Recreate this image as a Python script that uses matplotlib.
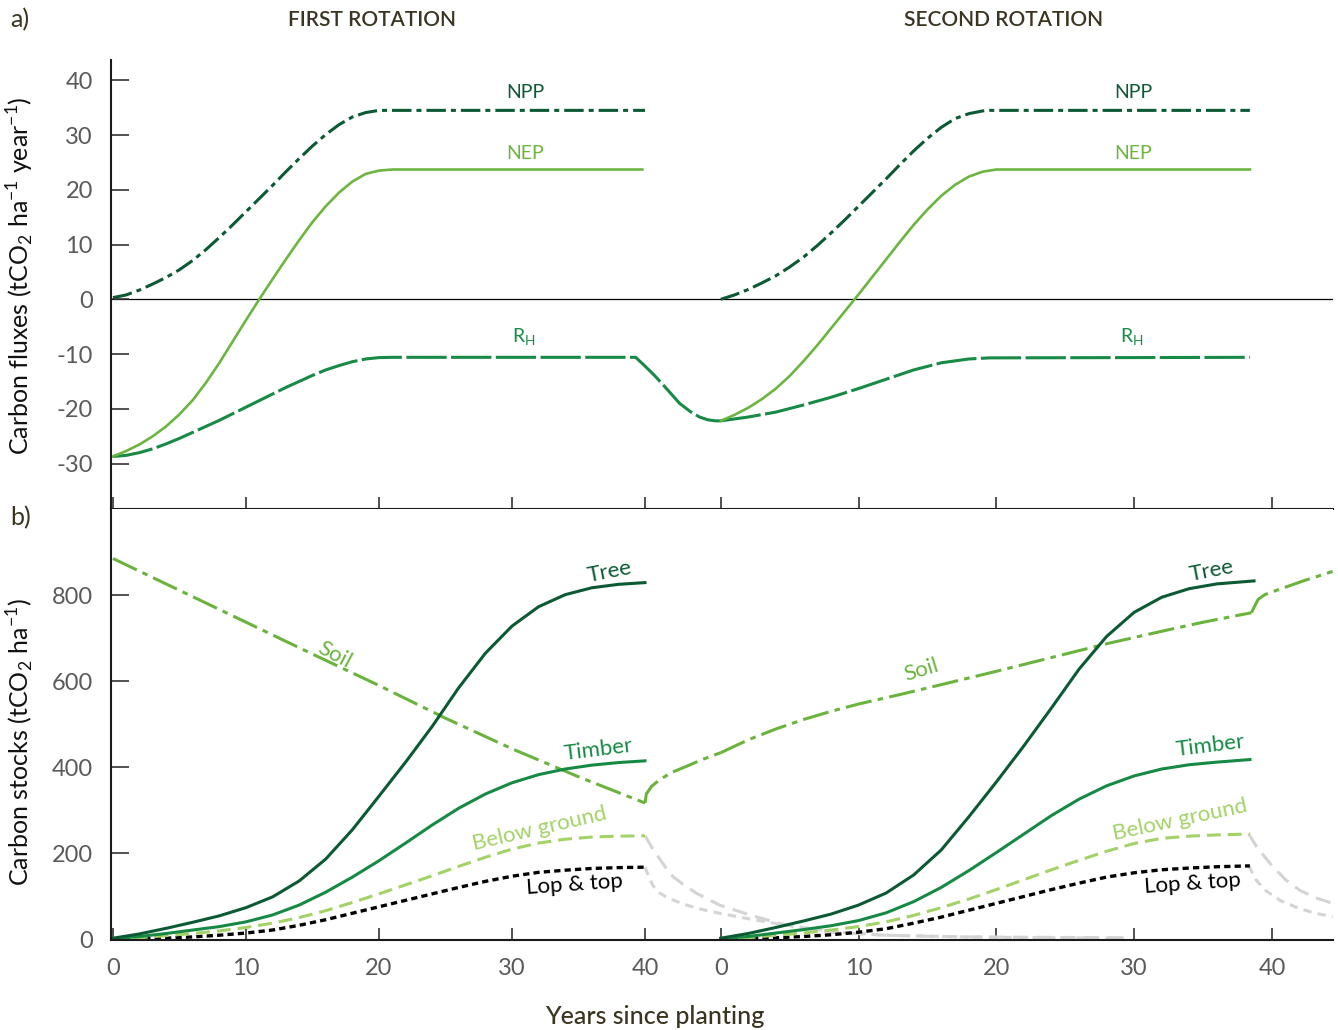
import numpy as np
import matplotlib
matplotlib.use("Agg")
import matplotlib.pyplot as plt

plt.rcParams["font.family"] = ["Lato", "DejaVu Sans"]
plt.rcParams["axes.unicode_minus"] = False
plt.rcParams["lines.scale_dashes"] = False

# x axis is in years since first planting; the second rotation is
# replanted at R2_START and its own year scale is a little wider
R2_START = 45.7
R2_SCALE = 1.036


def rot2(years):
    return R2_START + R2_SCALE * np.asarray(years, dtype=float)


# ---------------- a) carbon fluxes (tCO2 / ha / year) ----------------
# first rotation
flux_yr1 = [0, 1, 2, 3, 4, 5, 6, 7, 8, 9, 10, 11, 12, 13, 14, 15, 16, 17, 18, 19, 20, 40]
npp1 = [0.3, 0.8, 1.7, 2.8, 4.0, 5.4, 7.1, 9.1, 11.3, 13.6, 16.0, 18.4, 20.8, 23.3, 25.7,
        28.0, 30.1, 31.9, 33.3, 34.1, 34.5, 34.5]
nep_yr1 = [0, 1, 2, 3, 4, 5, 6, 7, 8, 9, 10, 11, 12, 13, 14, 15, 16, 17, 18, 19, 20, 21, 39.8]
nep1 = [-28.7, -27.7, -26.5, -25.0, -23.2, -21.0, -18.4, -15.2, -11.6, -7.7, -3.8, 0.0,
        3.7, 7.3, 10.8, 14.1, 17.0, 19.5, 21.5, 22.9, 23.5, 23.7, 23.7]
rh_yr1 = [0, 1, 2, 3, 4, 5, 6, 7, 8, 9, 10, 11, 12, 13, 14, 15, 16, 17, 18, 19, 20, 21,
          39.3, 40.0, 40.75, 41.5, 42.6, 43.4, 44.1, 44.7, 45.3, 45.7]
rh1 = [-28.7, -28.5, -28.0, -27.3, -26.4, -25.4, -24.3, -23.2, -22.1, -20.9, -19.7, -18.5,
       -17.3, -16.1, -15.0, -13.9, -12.9, -12.1, -11.4, -10.9, -10.65, -10.6,
       -10.6, -12.2, -14.0, -16.0, -19.0, -20.5, -21.5, -22.0, -22.2, -22.2]

# second rotation (own years)
npp_yr2 = [0, 1, 2, 3, 4, 5, 6, 7, 8, 9, 10, 11, 12, 13, 14, 15, 16, 17, 18, 19, 19.5, 38.4]
npp2 = [0.0, 0.8, 1.8, 3.0, 4.3, 5.9, 7.7, 9.8, 12.1, 14.5, 17.0, 19.5, 22.0, 24.6, 27.1,
        29.4, 31.4, 33.0, 33.9, 34.4, 34.5, 34.5]
nep_yr2 = [0, 1, 2, 3, 4, 5, 6, 7, 8, 9, 10, 11, 12, 13, 14, 15, 16, 17, 18, 19, 20, 38.4]
nep2 = [-22.2, -21.1, -19.8, -18.2, -16.3, -14.0, -11.3, -8.4, -5.3, -2.2, 0.9, 4.1, 7.3,
        10.5, 13.6, 16.4, 18.9, 20.9, 22.4, 23.3, 23.7, 23.7]
rh_yr2 = [0, 2, 4, 6, 8, 10, 12, 14, 16, 18, 19.5, 38.4]
rh2 = [-22.2, -21.5, -20.6, -19.3, -17.9, -16.3, -14.6, -12.9, -11.6, -10.9, -10.7, -10.6]

# ---------------- b) carbon stocks (tCO2 / ha) ----------------
stock_yr1 = [0, 2, 4, 6, 8, 10, 12, 14, 16, 18, 20, 22, 24, 26, 28, 30, 32, 34, 36, 38, 40]
tree1 = [3, 13, 26, 40, 55, 74, 99, 136, 187, 255, 333, 412, 495, 585, 665, 728, 773, 801,
         817, 825, 829]
timber1 = [2, 7, 14, 22, 30, 41, 57, 80, 110, 145, 183, 224, 266, 305, 338, 364, 383, 396,
           405, 411, 415]
below1 = [1, 4, 9, 14, 20, 28, 38, 51, 67, 86, 106, 127, 148, 170, 191, 210, 224, 233,
          238, 240, 241]
lop1 = [1, 2, 3, 6, 10, 15, 22, 33, 46, 61, 76, 91, 106, 121, 135, 147, 156, 161, 165,
        167, 168]
soil_yr1 = [0, 5, 10, 15, 20, 25, 30, 35, 40]
soil1 = [885, 811, 737, 663, 590, 514, 443, 378, 317]

tree_yr2 = [0, 2, 4, 6, 8, 10, 12, 14, 16, 18, 20, 22, 24, 26, 28, 30, 32, 34, 36, 38.7]
tree2 = [3, 14, 28, 43, 59, 80, 108, 150, 208, 285, 366, 450, 538, 628, 704, 760, 795,
         815, 826, 833]
stock_yr2 = [0, 2, 4, 6, 8, 10, 12, 14, 16, 18, 20, 22, 24, 26, 28, 30, 32, 34, 36, 38.4]
timber2 = [2, 7, 15, 23, 32, 44, 62, 88, 121, 160, 202, 245, 288, 326, 357, 380, 396,
           406, 412, 418]
below2 = [1, 4, 10, 15, 22, 30, 41, 56, 74, 94, 116, 139, 162, 184, 205, 223, 235, 240,
          243, 245]
lop2 = [1, 2, 4, 7, 11, 17, 25, 38, 52, 68, 84, 100, 116, 131, 145, 155, 162, 166, 169, 171]
soil_yr2 = [0, 2, 4, 6, 8, 10, 13, 16, 20, 24, 28, 32, 35, 38.5]
soil2 = [434, 464, 489, 511, 530, 547, 569, 592, 623, 655, 687, 716, 737, 759]

# soil recovery after each harvest (years since first planting)
soil_h1_yr = [40.0, 40.1, 40.5, 41.1, 42.0, 43.1, 44.3, 45.7]
soil_h1 = [317, 338, 356, 371, 388, 402, 418, 434]
soil_h2_yr = [85.6, 85.8, 86.1, 86.6, 87.2, 89.5, 91.7]
soil_h2 = [759, 772, 790, 801, 808, 833, 855]

# decay of below ground and lop & top residues after harvest
below_dec1_yr = [40.0, 40.5, 41.0, 41.6, 42.1, 43.0, 43.9, 45.6, 47.9, 50, 52, 54, 58,
                 64, 70, 76]
below_dec1 = [241, 215, 192, 165, 146, 125, 107, 80, 57, 38, 26, 17, 10, 6, 5, 4]
lop_dec1_yr = [40.0, 40.3, 40.6, 41.1, 41.75, 42.9, 44.0, 45.1, 46.6, 48, 50.4, 54.2, 58,
               64, 70, 76]
lop_dec1 = [168, 145, 125, 108, 96, 82, 72, 64, 55, 47, 34, 18, 10, 6, 4, 3]
below_dec2_yr = [85.4, 86.0, 87.2, 88.2, 89.2, 90.4, 91.7]
below_dec2 = [245, 215, 169, 138, 115, 97, 84]
lop_dec2_yr = [85.4, 85.9, 86.6, 87.8, 89.2, 90.4, 91.7]
lop_dec2 = [171, 140, 115, 90, 72, 61, 53]

year_ticks = [0, 10, 20, 30, 40]
flux_ticks = [-30, -20, -10, 0, 10, 20, 30, 40]
stock_ticks = [0, 200, 400, 600, 800]

# colours
NPP_COL = "#0b5a34"
NEP_COL = "#6cb540"
RH_COL = "#178a46"
TREE_COL = "#0b5a33"
TIMBER_COL = "#168a45"
BELOW_COL = "#a3d267"
SOIL_COL = "#6ab43e"
GREY_COL = "#d4d4d4"
TEXT_DARK = "#3a3420"
TICK_COL = "#5a5a5a"

W, H = 1338, 1030
fig = plt.figure(figsize=(W / 100, H / 100), dpi=100)

x_left, x_right = 111 / W, 1333 / W
ax_a = fig.add_axes([x_left, 1 - 509 / H, x_right - x_left, (509 - 60) / H])
ax_b = fig.add_axes([x_left, 1 - 939.5 / H, x_right - x_left, (939.5 - 509) / H])

xlim = (-0.15, 91.73)
x_ticks = list(year_ticks) + list(rot2(year_ticks))
x_labels = [str(t) for t in year_ticks] * 2

for ax in (ax_a, ax_b):
    ax.set_xlim(*xlim)
    ax.spines["right"].set_visible(False)
    ax.spines["top"].set_visible(False)
    for s in ("left", "bottom"):
        ax.spines[s].set_linewidth(1.5)
        ax.spines[s].set_color("#1a1a1a")
    ax.set_xticks(x_ticks)
    ax.tick_params(axis="x", direction="in", length=9, width=1.2, color="#333333")
    ax.tick_params(axis="y", direction="in", length=13, width=1.2, color="#333333",
                   labelsize=17, labelcolor=TICK_COL, pad=13)

# ---- panel a ----
ax_a.set_ylim(-38.3, 43.7)
ax_a.set_yticks(flux_ticks)
ax_a.set_xticklabels([])
ax_a.axhline(0, color="black", lw=0.9, zorder=1)

npp_style = dict(color=NPP_COL, lw=2.2, dashes=(14, 3.6, 3.6, 3.6))
rh_style = dict(color=RH_COL, lw=2.2, dashes=(29, 3.2))
ax_a.plot(flux_yr1, npp1, **npp_style)
ax_a.plot(rot2(npp_yr2), npp2, **npp_style)
ax_a.plot(rh_yr1, rh1, **rh_style)
ax_a.plot(rot2(rh_yr2), rh2, **rh_style)
ax_a.plot(nep_yr1, nep1, color=NEP_COL, lw=1.9)
ax_a.plot(rot2(nep_yr2), nep2, color=NEP_COL, lw=1.9)

for xc in (31.0, 76.7):
    ax_a.text(xc, 37.7, "NPP", color=NPP_COL, fontsize=14, ha="center", va="center")
    ax_a.text(xc, 26.7, "NEP", color=NEP_COL, fontsize=14, ha="center", va="center")
    ax_a.text(xc - 0.1, -6.9, r"R$_\mathregular{H}$", color=RH_COL, fontsize=14,
              ha="center", va="center")

# ---- panel b ----
ax_b.set_ylim(0, 1000)
ax_b.set_yticks(stock_ticks)
ax_b.set_xticklabels(x_labels)
ax_b.tick_params(axis="x", labelsize=17, labelcolor=TICK_COL, pad=13)

grey_long = dict(color=GREY_COL, lw=2.2, dashes=(11, 6))
grey_short = dict(color=GREY_COL, lw=2.2, dashes=(6, 4.5))
ax_b.plot(below_dec1_yr, below_dec1, **grey_long)
ax_b.plot(lop_dec1_yr, lop_dec1, **grey_short)
ax_b.plot(below_dec2_yr, below_dec2, **grey_long)
ax_b.plot(lop_dec2_yr, lop_dec2, **grey_short)

soil_style = dict(color=SOIL_COL, lw=2.2, dashes=(19, 4.5, 4, 4.5))
ax_b.plot(soil_yr1, soil1, **soil_style)
ax_b.plot(soil_h1_yr, soil_h1, **soil_style)
ax_b.plot(rot2(soil_yr2), soil2, **soil_style)
ax_b.plot(soil_h2_yr, soil_h2, **soil_style)

for shift, yrs, yrs_tree, tr, tb, bg, lp in (
        (lambda v: np.asarray(v, dtype=float), stock_yr1, stock_yr1,
         tree1, timber1, below1, lop1),
        (rot2, stock_yr2, tree_yr2, tree2, timber2, below2, lop2)):
    ax_b.plot(shift(yrs), lp, color="black", lw=2.4, dashes=(4.5, 3))
    ax_b.plot(shift(yrs), bg, color=BELOW_COL, lw=2.2, dashes=(10, 5))
    ax_b.plot(shift(yrs), tb, color=TIMBER_COL, lw=2.2)
    ax_b.plot(shift(yrs_tree), tr, color=TREE_COL, lw=2.2)

lab = dict(fontsize=16, ha="center", va="center")
ax_b.text(37.3, 853, "Tree", color=TREE_COL, rotation=11, **lab)
ax_b.text(82.6, 856, "Tree", color=TREE_COL, rotation=11, **lab)
ax_b.text(16.7, 661, "Soil", color=SOIL_COL, rotation=-28, **lab)
ax_b.text(60.8, 626, "Soil", color=SOIL_COL, rotation=17, **lab)
ax_b.text(36.5, 440, "Timber", color=TIMBER_COL, rotation=7, **lab)
ax_b.text(82.5, 449, "Timber", color=TIMBER_COL, rotation=7, **lab)
ax_b.text(32.1, 257, "Below ground", color=BELOW_COL, rotation=13, **lab)
ax_b.text(80.2, 278, "Below ground", color=BELOW_COL, rotation=12, **lab)
ax_b.text(34.7, 127, "Lop & top", color="black", rotation=4, **lab)
ax_b.text(81.2, 129, "Lop & top", color="black", rotation=4, **lab)

# ---- figure text ----
head = dict(fontsize=15, color=TEXT_DARK, fontweight="semibold", ha="center", va="center")
fig.text(372 / W, 1 - 20 / H, "FIRST ROTATION", **head)
fig.text(1004 / W, 1 - 20 / H, "SECOND ROTATION", **head)
fig.text(10 / W, 1 - 20 / H, "a)", fontsize=18, color=TEXT_DARK, ha="left", va="center")
fig.text(10 / W, 1 - 518 / H, "b)", fontsize=18, color=TEXT_DARK, ha="left", va="center")
fig.text(655 / W, 1 - 1016 / H, "Years since planting", fontsize=18, color=TEXT_DARK,
         fontweight="medium", ha="center", va="center")
fig.text(20 / W, 1 - 276 / H,
         r"Carbon fluxes (tCO$_\mathregular{2}$ ha$^\mathregular{-1}$ year$^\mathregular{-1}$)",
         fontsize=18, color="#111111", rotation=90, ha="center", va="center")
fig.text(20 / W, 1 - 742 / H,
         r"Carbon stocks (tCO$_\mathregular{2}$ ha$^\mathregular{-1}$)",
         fontsize=18, color="#111111", rotation=90, ha="center", va="center")

fig.savefig("out.png", dpi=100)
